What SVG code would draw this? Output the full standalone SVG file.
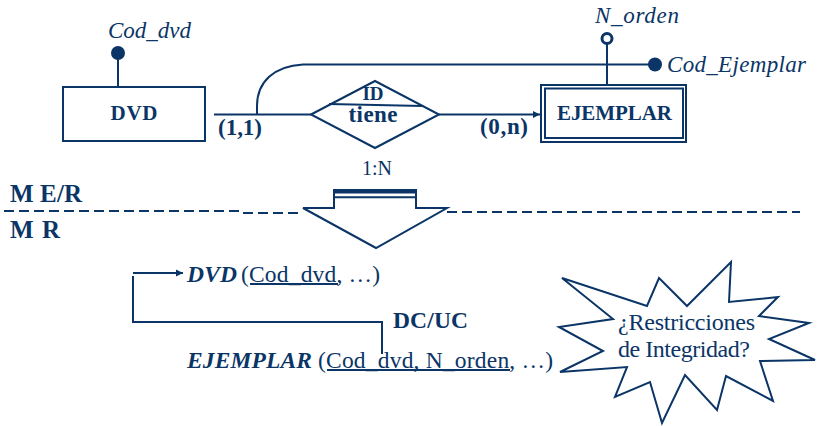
<svg xmlns="http://www.w3.org/2000/svg" width="817" height="426" viewBox="0 0 817 426">
<style>
.t{fill:#0a3566}
.b{font-weight:bold}
.i{font-style:italic}
.s{fill:none;stroke:#0a3566;stroke-width:2}
.w{fill:#fff;stroke:#0a3566;stroke-width:2}
.f{fill:#0a3566}
</style>
<defs>
<marker id="ah" markerWidth="8" markerHeight="8" refX="7" refY="4" orient="auto" markerUnits="userSpaceOnUse">
<path d="M0,0.5 L7,4 L0,7.5 Z" fill="#0a3566"/>
</marker>
</defs>
<rect width="817" height="426" fill="#fff"/>

<g id="connectors">
<line x1="214" y1="114.5" x2="311" y2="114.5" class="s" stroke-width="3"/>
<path d="M257,114.5 L257,106 C257,82 274,66 303,64.5 L655,64.5" class="s" stroke-width="3"/>
<line x1="439" y1="114.5" x2="540" y2="114.5" class="s" marker-end="url(#ah)"/>
<line x1="118" y1="58" x2="118" y2="87" class="s" stroke-width="3"/>
<line x1="607" y1="44" x2="607" y2="84" class="s" stroke-width="3"/>
<path d="M133,276 L133,322 L382,322 L382,354" class="s" stroke-width="3"/>
<line x1="133" y1="273" x2="183" y2="273" class="s" marker-end="url(#ah)"/>
</g>

<g id="dvd">
<rect x="63" y="87" width="142" height="54" class="w"/>
<text x="134" y="120" class="t b" font-family="Liberation Serif" font-size="21" text-anchor="middle" textLength="47" lengthAdjust="spacing">DVD</text>
</g>

<g id="cod_dvd">
<circle cx="118" cy="53" r="7" class="f"/>
<text x="108" y="38" class="t i" font-family="Liberation Serif" font-size="23" textLength="83" lengthAdjust="spacing">Cod_dvd</text>
</g>

<g id="tiene">
<polygon points="311,114.5 375,81 439,114.5 375,148" class="w"/>
<line x1="329" y1="104" x2="423" y2="106" class="s"/>
<text x="373" y="100" class="t b" font-family="Liberation Serif" font-size="19" text-anchor="middle">ID</text>
<text x="373" y="122" class="t b" font-family="Liberation Serif" font-size="23" text-anchor="middle" textLength="49" lengthAdjust="spacing">tiene</text>
</g>

<g id="card11"><text x="218" y="135" class="t b" font-family="Liberation Serif" font-size="23" textLength="44" lengthAdjust="spacing">(1,1)</text></g>
<g id="card0n"><text x="480" y="134" class="t b" font-family="Liberation Serif" font-size="23" textLength="48" lengthAdjust="spacing">(0,n)</text></g>

<g id="ejemplar">
<rect x="541" y="85" width="145" height="57" class="w"/>
<rect x="545" y="88.5" width="138" height="49.5" class="s"/>
<text x="614.5" y="120" class="t b" font-family="Liberation Serif" font-size="21" text-anchor="middle" textLength="115" lengthAdjust="spacing">EJEMPLAR</text>
</g>

<g id="n_orden">
<circle cx="607" cy="38.5" r="5" fill="#fff" stroke="#0a3566" stroke-width="3"/>
<text x="595" y="23" class="t i" font-family="Liberation Serif" font-size="23" textLength="84" lengthAdjust="spacing">N_orden</text>
</g>

<g id="cod_ejemplar">
<circle cx="655" cy="64.5" r="7" class="f"/>
<text x="667" y="72" class="t i" font-family="Liberation Serif" font-size="23" textLength="139" lengthAdjust="spacing">Cod_Ejemplar</text>
</g>

<g id="transform">
<text x="377" y="175" class="t" font-family="Liberation Serif" font-size="20" text-anchor="middle" textLength="30" lengthAdjust="spacing">1:N</text>
<path d="M4,211 L243,211 M243,213 L303,213" class="s" stroke-dasharray="10,5"/>
<line x1="447" y1="212" x2="800" y2="212" class="s" stroke-dasharray="10,5"/>
<polygon points="334,190 416,190 416,208 447,208 376,248 303,208 334,208" class="w"/>
<rect x="334" y="189" width="82" height="4.5" class="f"/>
<line x1="334" y1="197.2" x2="416" y2="197.2" class="s" stroke-width="1.8"/>
<text x="10" y="202" class="t b" font-family="Liberation Serif" font-size="25" textLength="72" lengthAdjust="spacing">M E/R</text>
<text x="10" y="238" class="t b" font-family="Liberation Serif" font-size="25" textLength="50" lengthAdjust="spacing">M R</text>
</g>

<g id="rel_dvd">
<text x="187" y="282" class="t b i" font-family="Liberation Serif" font-size="23.5" textLength="50" lengthAdjust="spacing">DVD</text>
<text x="241" y="282" class="t" font-family="Liberation Serif" font-size="23.5" textLength="139" lengthAdjust="spacing">(Cod_dvd, …)</text>
<line x1="250" y1="284" x2="338" y2="284" class="s"/>
</g>

<g id="dcuc"><text x="393" y="328" class="t b" font-family="Liberation Serif" font-size="23.5" textLength="75" lengthAdjust="spacing">DC/UC</text></g>

<g id="rel_ejemplar">
<text x="187" y="368" class="t b i" font-family="Liberation Serif" font-size="23.5" textLength="125" lengthAdjust="spacing">EJEMPLAR</text>
<text x="318" y="368" class="t" font-family="Liberation Serif" font-size="23.5" textLength="235" lengthAdjust="spacing">(Cod_dvd, N_orden, …)</text>
<line x1="327" y1="370" x2="510" y2="370" class="s"/>
</g>

<g id="starburst">
<polygon points="562,278 647,306 659,278 687,306 731,262 729,302 778,297 759,316 809,323 769,339 815,360 760,361 773,401 726,376 717,410 685,375 662,423 650,382 615,397 627,367 560,372 603,351 559,327 613,319" class="w"/>
<text x="618" y="330" class="t" font-family="Liberation Serif" font-size="24" textLength="137" lengthAdjust="spacing">¿Restricciones</text>
<text x="618" y="357" class="t" font-family="Liberation Serif" font-size="24" textLength="132" lengthAdjust="spacing">de Integridad?</text>
</g>
</svg>
